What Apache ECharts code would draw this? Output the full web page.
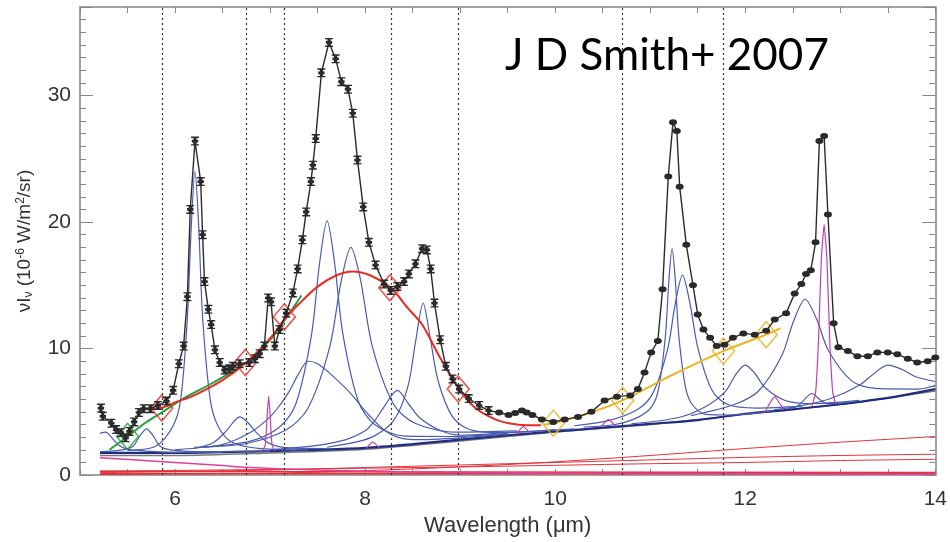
<!DOCTYPE html>
<html>
<head>
<meta charset="utf-8">
<script src="https://cdn.jsdelivr.net/npm/echarts@6/dist/echarts.min.js"></script>
<style>
html,body{margin:0;padding:0;background:#fff}
#chart{width:950px;height:542px}
</style>
</head>
<body>
<div id="chart"></div>
<script>
// observed spectrum (points with error bars + black model line)
var observed = [
  [5.22,5.3],[5.24,4.65],[5.33,4.1],[5.38,3.6],[5.43,3.35],[5.48,2.95],[5.52,3.45],[5.57,4.2],
  [5.62,4.95],[5.67,5.25],[5.74,5.25],[5.82,5.5],[5.91,5.85],[5.98,6.7],[6.04,8.8],[6.09,10.2],
  [6.13,14.1],[6.16,21.0],[6.21,26.4],[6.27,23.2],[6.29,19.0],[6.31,15.3],[6.35,13.1],[6.38,11.9],
  [6.42,9.9],[6.47,8.9],[6.52,8.3],[6.57,8.4],[6.61,8.6],[6.68,8.8],[6.78,8.9],[6.84,9.2],
  [6.89,9.6],[6.94,10.2],[6.98,14.0],[7.01,13.7],[7.05,10.2],[7.1,11.5],[7.17,12.8],[7.24,14.4],
  [7.29,16.3],[7.34,18.6],[7.38,20.8],[7.43,23.2],[7.45,24.5],[7.48,26.6],[7.54,31.8],[7.62,34.2],
  [7.69,32.9],[7.75,31.1],[7.82,30.5],[7.87,28.6],[7.92,24.9],[7.98,21.2],[8.04,18.4],[8.11,16.6],
  [8.2,15.1],[8.27,14.6],[8.34,14.9],[8.41,15.3],[8.46,15.9],[8.53,16.7],[8.6,17.9],[8.65,17.8],
  [8.69,16.3],[8.73,13.6],[8.79,10.7],[8.85,8.6],[8.92,7.6],[8.99,6.8],[9.09,6.05],[9.2,5.5],
  [9.3,5.1],[9.41,4.95],[9.51,4.75],[9.58,4.9],[9.65,5.1],[9.7,4.95],[9.76,4.75],[9.86,4.4],
  [9.98,4.2],[10.1,4.4],[10.24,4.6],[10.38,5.0],[10.52,5.9],[10.65,6.2],[10.79,6.3],[10.87,6.8],
  [10.94,8.1],[11.01,9.7],[11.08,10.6],[11.13,14.7],[11.19,23.6],[11.24,27.9],[11.28,27.2],[11.31,22.8],
  [11.38,18.2],[11.45,15.0],[11.5,12.7],[11.56,11.5],[11.63,10.85],[11.7,10.2],[11.78,10.3],[11.87,10.85],
  [11.98,11.2],[12.1,11.1],[12.22,11.4],[12.31,12.3],[12.43,12.8],[12.52,14.35],[12.59,15.1],[12.64,15.9],
  [12.69,16.2],[12.74,18.4],[12.78,26.4],[12.83,26.8],[12.87,20.6],[12.93,12.0],[12.98,10.1],[13.08,9.8],
  [13.18,9.4],[13.29,9.4],[13.39,9.7],[13.5,9.7],[13.6,9.55],[13.71,9.2],[13.81,8.9],[13.92,9.0],[14.0,9.3]
];

// continuum under the features
var baseline = [[5.21,1.75],[6,1.75],[7,1.9],[7.5,2.0],[8,2.15],[8.5,2.45],[9,2.8],[9.5,3.15],[10,3.45],
  [10.5,3.75],[11,4.05],[11.5,4.35],[12,4.85],[12.5,5.2],[13,5.6],[13.5,6.1],[14,6.8]];
var baseGray = [[5.21,1.55],[6,1.55],[7,1.75],[8,2.05],[9,2.7],[10,3.4],[11,4.0],[12,4.8],[13,5.6],[14,6.65]];

// PAH features (blue)
var pah527 = [[5.21,3.3],[5.27,3.4],[5.33,3.0],[5.4,2.4],[5.5,2.05],[5.7,1.9],[6.0,1.8],[6.5,1.8]];
var pah570 = [[5.21,1.85],[5.45,2.0],[5.56,2.3],[5.63,3.1],[5.7,3.66],[5.77,3.1],[5.84,2.3],[5.95,2.0],[6.3,1.85],[7.0,1.9]];
var pah622 = [[5.5,1.95],[5.8,2.3],[5.98,3.9],[6.06,6.0],[6.13,12.5],[6.17,19.5],[6.21,24.0],[6.25,19.5],
  [6.29,12.5],[6.37,6.0],[6.45,3.9],[6.6,2.6],[6.9,2.1],[7.4,2.0]];
var pah669 = [[6.2,2.1],[6.4,2.55],[6.54,3.5],[6.62,4.25],[6.68,4.6],[6.76,4.2],[6.84,3.5],[6.98,2.55],[7.2,2.15],[7.6,2.1]];
var pah742 = [[6.0,2.0],[6.3,2.2],[6.54,2.5],[6.8,3.4],[7.0,4.6],[7.1,5.5],[7.2,6.6],[7.3,8.0],[7.4,9.0],
  [7.5,8.8],[7.62,8.1],[7.83,6.6],[8.04,4.75],[8.25,3.3],[8.5,2.8],[9.0,2.95],[9.5,3.25]];
var pah760 = [[6.3,2.2],[6.8,2.7],[7.1,3.8],[7.27,5.6],[7.435,11.05],[7.52,16.7],[7.6,20.1],[7.68,16.7],
  [7.765,11.2],[7.93,5.8],[8.1,4.0],[8.4,3.1],[8.9,3.05],[9.5,3.3]];
var pah785 = [[6.2,2.2],[6.75,2.5],[7.175,3.6],[7.4,5.3],[7.625,10.05],[7.75,15.4],[7.85,18.0],[7.95,15.5],
  [8.075,10.2],[8.3,5.6],[8.525,4.1],[8.95,3.4],[9.6,3.5]];
var pah833 = [[7.0,2.0],[7.5,2.35],[7.8,2.8],[8.0,3.5],[8.1,4.3],[8.2,5.4],[8.34,6.7],[8.46,5.6],[8.58,4.5],
  [8.8,3.5],[9.0,3.15],[9.5,3.35],[10.2,3.65]];
var pah861 = [[7.6,2.2],[7.9,2.6],[8.1,3.1],[8.3,4.3],[8.45,7.0],[8.53,10.5],[8.61,13.6],[8.69,10.6],[8.77,7.4],
  [8.92,4.6],[9.1,3.6],[9.4,3.35],[10.0,3.6]];
var pah1123 = [[10.3,3.8],[10.63,4.0],[10.88,4.6],[11.02,5.45],[11.09,6.9],[11.16,11.0],[11.195,15.2],[11.23,17.9],
  [11.265,15.3],[11.3,11.1],[11.37,7.0],[11.44,5.6],[11.58,4.8],[11.83,4.75],[12.3,5.1]];
var pah1133 = [[10.2,3.9],[10.56,4.3],[10.87,5.2],[11.03,6.5],[11.185,10.0],[11.26,13.4],[11.34,15.8],[11.42,13.5],
  [11.5,10.1],[11.65,6.7],[11.81,5.6],[12.12,5.3],[12.6,5.45]];
var pah1199 = [[10.8,4.05],[11.3,4.55],[11.58,5.4],[11.79,6.6],[11.9,7.95],[12.0,8.7],[12.1,8.05],[12.21,6.9],
  [12.42,5.9],[12.7,5.65],[13.2,5.9]];
var pah1262 = [[11.43,4.7],[11.89,5.6],[12.14,6.65],[12.385,9.45],[12.51,12.2],[12.63,13.9],[12.75,12.35],
  [12.875,9.85],[13.12,7.45],[13.37,6.85],[13.83,6.8],[14.0,7.1]];
var pah1269 = [[12.45,5.25],[12.55,5.45],[12.62,5.95],[12.7,6.45],[12.78,6.0],[12.86,5.65],[13.1,5.75]];
var pah1348 = [[12.3,5.15],[12.6,5.5],[12.9,6.05],[13.2,7.1],[13.35,8.0],[13.5,8.7],[13.65,8.35],[13.8,7.75],[14.0,7.4]];

// gas lines (magenta)
var lineArII = [[6.92,1.9],[6.95,2.4],[6.97,4.8],[6.985,6.25],[7.0,4.8],[7.02,2.4],[7.05,1.9]];
var lineH2S4 = [[8.01,2.1],[8.05,2.45],[8.08,2.6],[8.11,2.45],[8.15,2.15]];
var lineH2S3 = [[9.59,3.25],[9.63,3.6],[9.665,3.85],[9.7,3.6],[9.74,3.3]];
var lineSIV = [[10.48,3.8],[10.52,4.15],[10.56,4.4],[10.6,4.15],[10.64,3.85]];
var lineH2S2 = [[12.21,5.0],[12.26,5.7],[12.31,6.2],[12.36,5.7],[12.41,5.2]];
var lineNeII = [[12.7,5.45],[12.74,6.5],[12.77,10.5],[12.8,17],[12.83,19.8],[12.86,17],[12.89,10.5],[12.92,6.6],[12.95,5.6]];
var starlight = [[5.21,1.38],[5.6,1.2],[6.0,1.0],[6.5,0.75],[6.75,0.62],[7.5,0.4],[8.5,0.25],[10,0.15],[12,0.1],[14,0.06]];

// thermal dust continua (red, bottom)
var dustA = [[5.21,0.05],[7,0.15],[8,0.35],[9,0.65],[10,1.05],[11,1.55],[12,2.1],[13,2.6],[14,3.05]];
var dustB = [[5.21,0.2],[7,0.4],[8,0.6],[9,0.8],[10,1.0],[11,1.2],[12,1.4],[13,1.55],[14,1.65]];
var dustC = [[5.21,0.3],[7,0.45],[9,0.65],[11,0.9],[12,1.0],[13,1.15],[14,1.25]];
var dustD = [[5.21,0.12],[9,0.1],[14,0.1]];
var dustE = [[5.21,0.3],[9,0.25],[14,0.2]];

// plateau splines and their anchors
var greenSpline = [[5.31,2.0],[5.5,3.06],[5.7,4.2],[5.87,5.0],[6.1,6.1],[6.4,7.3],[6.75,8.9],[7.0,10.7],[7.15,12.2],[7.33,14.2]];
var redSpline = [[5.7,5.2],[5.87,5.35],[6.0,5.75],[6.2,6.3],[6.5,7.5],[6.75,8.9],[7.0,10.8],[7.15,12.3],[7.3,13.5],
  [7.5,14.9],[7.7,15.8],[7.87,16.1],[8.05,15.8],[8.27,14.8],[8.45,13.2],[8.6,11.9],[8.78,9.4],[8.98,6.9],
  [9.16,5.3],[9.37,4.4],[9.51,4.1],[9.7,3.95],[9.85,3.95]];
var yellowSpline = [[9.88,4.0],[9.98,4.1],[10.3,4.75],[10.71,5.9],[11.2,7.8],[11.77,9.8],[12.22,11.1],[12.37,11.6]];
var greenAnchors = [[5.5,3.06]];
var redAnchors = [[5.86,5.3],[6.74,8.9],[7.15,12.5],[8.26,14.8],[8.98,6.8]];
var yellowAnchors = [[9.98,4.1],[10.71,5.9],[11.77,9.8],[12.22,11.1]];
var anchorLines = [5.87, 6.75, 7.15, 8.27, 8.98, 10.71, 11.77];

var ibeam = 'path://M0,0H10V1.5H7V3.5H9V6.5H7V8.5H10V10H0V8.5H3V6.5H1V3.5H3V1.5H0Z';
var font = 'Liberation Sans';

function curve(data, color, width, z, smooth) {
  return {
    type: 'line', data: data, showSymbol: false, smooth: smooth === undefined ? 0.3 : smooth,
    lineStyle: {color: color, width: width}, z: z, silent: true
  };
}
function anchors(data, color) {
  return {
    type: 'scatter', data: data, symbol: 'diamond', symbolSize: [22, 26], z: 8, silent: true,
    itemStyle: {color: 'rgba(0,0,0,0)', borderColor: color, borderWidth: 1.6}
  };
}

var chart = echarts.init(document.getElementById('chart'));

var frame = {color: '#a3a3a3', width: 2};
var xBase = {
  type: 'value', min: 5, max: 14, interval: 0.5,
  axisLine: {show: true, onZero: false, lineStyle: frame},
  axisTick: {inside: true, length: 6, lineStyle: {color: '#888'}},
  splitLine: {show: false}
};
var yMinor = {
  type: 'value', min: 0, max: 37, interval: 1,
  axisLine: {show: true, onZero: false, lineStyle: frame},
  axisTick: {inside: true, length: 6, lineStyle: {color: '#888'}},
  splitLine: {show: false}
};
var yMajor = {
  type: 'value', min: 0, max: 37, interval: 10,
  axisLine: {show: false}, axisLabel: {show: false},
  axisTick: {inside: true, length: 13, lineStyle: {color: '#888'}},
  splitLine: {show: false}
};

var series = [
  curve(dustE, '#e0323c', 1.5, 1), curve(dustD, '#e0323c', 1.5, 1),
  curve(dustC, '#e0323c', 1, 1), curve(dustB, '#e0323c', 1, 1), curve(dustA, '#e0323c', 1, 1),
  curve(starlight, '#e0409a', 1.5, 2),
  curve(baseGray, '#7a7a7a', 1.5, 2),
  curve(baseline, '#1f2d80', 2.2, 3)
];
[pah527, pah570, pah622, pah669, pah742, pah760, pah785, pah833, pah861,
 pah1123, pah1133, pah1199, pah1262, pah1269, pah1348].forEach(function (d) {
  series.push(curve(d, '#4a5bb0', 1.2, 4));
});
[lineArII, lineH2S4, lineH2S3, lineSIV, lineH2S2, lineNeII].forEach(function (d) {
  series.push(curve(d, '#c23fb0', 1.2, 4, 0.15));
});
series.push(curve(greenSpline, '#22a03a', 2, 6));
series.push(curve(redSpline, '#ea2a22', 2, 6));
series.push(curve(yellowSpline, '#efb21c', 2, 6));
series.push(anchors(greenAnchors, '#22a03a'));
series.push(anchors(redAnchors, '#ea2a22'));
series.push(anchors(yellowAnchors, '#efb21c'));
series.push({
  type: 'line', data: observed, smooth: false, z: 10, silent: true,
  lineStyle: {color: '#2a2a2a', width: 1.4},
  symbol: function (v) { return v[0] < 9.35 ? ibeam : 'circle'; },
  symbolSize: function (v) { return v[0] < 9.35 ? [8, 9] : [8, 6]; },
  itemStyle: {color: '#2a2a2a'},
  markLine: {
    silent: true, symbol: ['none', 'none'], label: {show: false},
    lineStyle: {type: [2, 3], color: '#333', width: 1.2},
    data: anchorLines.map(function (x) { return {xAxis: x}; })
  }
});

var option = {
  animation: false,
  grid: {left: 80, right: 12, top: 7, bottom: 61},
  xAxis: [
    Object.assign({}, xBase, {
      position: 'bottom',
      axisLabel: {
        fontFamily: font, fontSize: 21, color: '#333', margin: 14,
        formatter: function (v) { return v % 2 === 0 ? String(v) : ''; }
      },
      name: 'Wavelength (μm)', nameLocation: 'middle', nameGap: 30,
      nameTextStyle: {fontFamily: font, fontSize: 22, color: '#333'}
    }),
    Object.assign({}, xBase, {position: 'top', axisLabel: {show: false}})
  ],
  yAxis: [
    Object.assign({}, yMinor, {
      position: 'left',
      axisLabel: {
        fontFamily: font, fontSize: 21, color: '#333', margin: 9,
        formatter: function (v) { return v % 10 === 0 ? String(v) : ''; }
      },
      name: 'νI{sub|ν} (10{sup|-6} W/m{sup|2}/sr)',
      nameLocation: 'middle', nameRotate: 90, nameGap: 45,
      nameTextStyle: {
        fontFamily: font, fontSize: 19, color: '#333',
        rich: {
          sub: {fontFamily: font, fontSize: 12, color: '#333', verticalAlign: 'bottom', padding: [8, 0, 0, 0]},
          sup: {fontFamily: font, fontSize: 12, color: '#333', verticalAlign: 'top', padding: [0, 0, 8, 0]}
        }
      }
    }),
    Object.assign({}, yMajor, {position: 'left'}),
    Object.assign({}, yMinor, {position: 'right', axisLabel: {show: false}}),
    Object.assign({}, yMajor, {position: 'right'})
  ],
  graphic: [{
    type: 'text', left: 505, top: 34, silent: true,
    style: {text: 'J D Smith+ 2007', font: '44px Lato', fill: '#000'}
  }],
  series: series
};
chart.setOption(option);
</script>
</body>
</html>
